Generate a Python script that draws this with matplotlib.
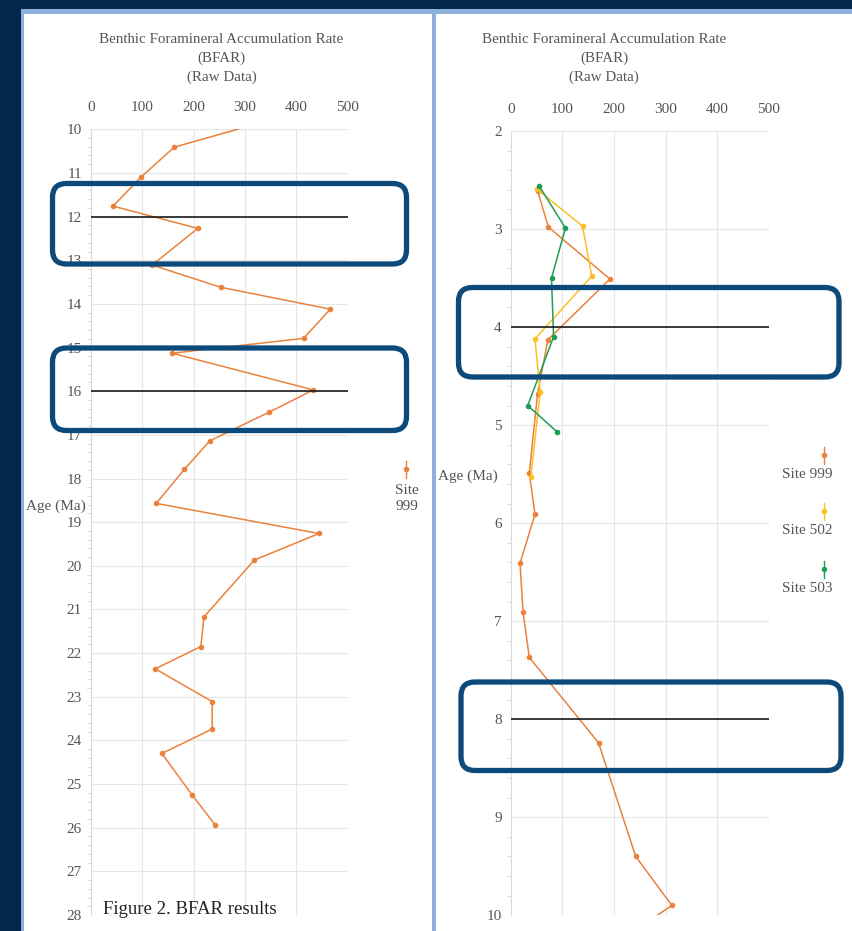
import matplotlib
matplotlib.use("Agg")
import matplotlib.pyplot as plt
from matplotlib.patches import Rectangle, FancyBboxPatch
from matplotlib.ticker import MultipleLocator

# BFAR, Site 999, 10-28 Ma
age_999_old = [9.9, 10.41, 11.10, 11.76, 12.27, 13.11, 13.62, 14.12, 14.79, 15.13,
               15.97, 16.48, 17.14, 17.79, 18.57, 19.26, 19.87, 21.17, 21.85, 22.36,
               23.11, 23.74, 24.30, 25.25, 25.94]
bfar_999_old = [315, 162, 97, 43, 208, 119, 253, 466, 414, 158,
                433, 347, 231, 182, 127, 444, 318, 220, 214, 125,
                236, 236, 138, 197, 242]

# BFAR, 2-10 Ma
age_999 = [2.61, 2.98, 3.51, 4.13, 4.68, 5.49, 5.91, 6.41, 6.91, 7.37, 8.24, 9.40, 9.90, 10.1]
bfar_999 = [52, 73, 192, 72, 52, 36, 47, 18, 24, 36, 170, 242, 312, 255]
age_502 = [2.59, 2.97, 3.48, 4.12, 4.66, 5.53]
bfar_502 = [50, 139, 157, 47, 57, 39]
age_503 = [2.56, 2.99, 3.50, 4.10, 4.80, 5.07]
bfar_503 = [55, 106, 79, 83, 33, 90]

events_old = [12, 16]
events_young = [4, 8]

title = "Benthic Foramineral Accumulation Rate\n(BFAR)\n(Raw Data)"

ORANGE = "#e9823c"
YELLOW = "#fcc024"
GREEN = "#1f9e55"
NAVY = "#03264b"
EDGE = "#8eb1dc"
BOX = "#0d4a7c"
GREY = "#555555"

plt.rcParams["font.family"] = ["Liberation Serif", "DejaVu Serif"]

W, H = 853, 931
fig = plt.figure(figsize=(W / 100, H / 100), dpi=100, facecolor=NAVY)


def frac(x0, y0, x1, y1):
    # pixel box (top-left origin) -> figure fraction rect
    return [x0 / W, 1 - y1 / H, (x1 - x0) / W, (y1 - y0) / H]


def pixel_axes(zorder):
    a = fig.add_axes([0, 0, 1, 1], zorder=zorder)
    a.set_xlim(0, W)
    a.set_ylim(H, 0)
    a.axis("off")
    a.patch.set_alpha(0)
    return a


# slide panels
bg = pixel_axes(-5)
bg.add_patch(Rectangle((21, 9), W - 21, 4.5, color=EDGE, lw=0))
bg.add_patch(Rectangle((21, 9), 3.5, H, color=EDGE, lw=0))
bg.add_patch(Rectangle((24.5, 13.5), 408, H, color="white", lw=0))
bg.add_patch(Rectangle((432.5, 13.5), 4, H, color=EDGE, lw=0))
bg.add_patch(Rectangle((436.5, 13.5), W - 436.5, H, color="white", lw=0))


def style_axis(ax, top, bottom):
    ax.set_xlim(0, 500)
    ax.set_ylim(bottom, top)
    ax.xaxis.tick_top()
    ax.set_xticks(range(0, 501, 100))
    ax.set_yticks(range(top, bottom + 1))
    ax.yaxis.set_minor_locator(MultipleLocator(0.2))
    ax.grid(True, which="major", color="#e6e6e6", lw=0.8)
    ax.set_axisbelow(True)
    for s in ["top", "right", "bottom"]:
        ax.spines[s].set_visible(False)
    ax.spines["left"].set_color("#dadada")
    ax.tick_params(axis="x", length=0, pad=11, labelsize=11, labelcolor=GREY)
    ax.tick_params(axis="y", which="major", length=0, pad=6.5, labelsize=11, labelcolor=GREY)
    ax.tick_params(axis="y", which="minor", length=3, width=0.6, color="#d4d4d4")


line_kw = dict(lw=1.1, marker="o", ms=3)

axL = fig.add_axes(frac(91, 129.3, 347.7, 915))
style_axis(axL, 10, 28)
axL.plot(bfar_999_old, age_999_old, color=ORANGE, **line_kw)
axL.hlines(events_old, 0, 500, color="#1a1a1a", lw=1.2, zorder=4)

axR = fig.add_axes(frac(510.7, 131, 769, 915.3))
style_axis(axR, 2, 10)
axR.plot(bfar_999, age_999, color=ORANGE, **line_kw)
axR.plot(bfar_502, age_502, color=YELLOW, **line_kw)
axR.plot(bfar_503, age_503, color=GREEN, **line_kw)
axR.hlines(events_young, 0, 500, color="#1a1a1a", lw=1.2, zorder=4)

fg = pixel_axes(5)

fg.text(221.5, 58.3, title, ha="center", va="center", fontsize=10.8,
        color=GREY, linespacing=1.55)
fg.text(604, 58.3, title, ha="center", va="center", fontsize=10.8,
        color=GREY, linespacing=1.55)
fg.text(55.8, 506.7, "Age (Ma)", ha="center", va="center", fontsize=11, color=GREY)
fg.text(467.7, 476, "Age (Ma)", ha="center", va="center", fontsize=11, color=GREY)


# legend entries: short bar with a dot, label underneath
def legend_mark(x, y, color):
    fg.plot([x, x], [y - 8.5, y + 8.5], color=color, lw=1.0)
    fg.plot(x, y, "o", color=color, ms=3)


legend_mark(406, 469, ORANGE)
fg.text(406.5, 498.5, "Site\n999", ha="center", va="center", fontsize=11,
        color=GREY, linespacing=1.35)
for y, color, name in [(455, ORANGE, "Site 999"), (511, YELLOW, "Site 502"), (569, GREEN, "Site 503")]:
    legend_mark(824, y, color)
    fg.text(807.5, y + 19, name, ha="center", va="center", fontsize=11, color=GREY)

# highlight boxes around the event lines
for x0, y0, x1, y1 in [(52.5, 183.5, 406.5, 264), (52.5, 348, 406.5, 430.5),
                       (458.5, 287.5, 839, 377), (461, 682, 841, 770.5)]:
    fg.add_patch(FancyBboxPatch((x0, y0), x1 - x0, y1 - y0,
                                boxstyle="round,pad=0,rounding_size=14",
                                fill=False, ec=BOX, lw=3.8))

fg.text(103, 909, "Figure 2. BFAR results", ha="left", va="center",
        fontsize=13.5, color="#222222")

fig.savefig("out.png", dpi=100, facecolor=NAVY)
